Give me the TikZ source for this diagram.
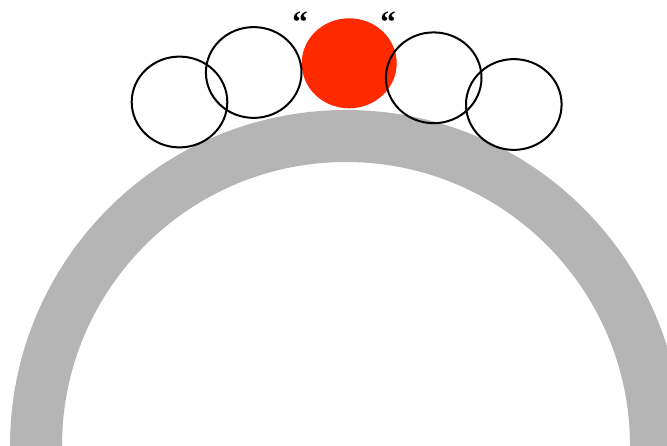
\documentclass[tikz,border=0pt]{standalone}
\usepackage{fontspec}
\newfontfamily\quotefont{Liberation Serif}
\usetikzlibrary{calc, positioning}
\definecolor{bandgray}{HTML}{B5B5B5}
\definecolor{beadred}{HTML}{FF2A00}

\begin{document}
\begin{tikzpicture}[x=1pt,y=1pt]
\def\rOut{336}
\def\rIn{284}
\def\rx{47.8}
\def\ry{45.4}
\coordinate (Bcenter) at (346,-1);
\coordinate (Bone) at (179.5,343);
\coordinate (Btwo) at (253.7,372.5);
\coordinate (Bred) at (349.2,381.7);
\coordinate (Bthree) at (433.7,367.2);
\coordinate (Bfour) at (513.8,340.5);

\useasboundingbox (0,0) rectangle (667,445);
\clip (0,0) rectangle (667,445);

% Grey half ring
\fill[bandgray] ($(Bcenter)+(-\rOut,0)$) arc[start angle=180,end angle=0,radius=\rOut]
    -- ($(Bcenter)+(\rIn,0)$) arc[start angle=0,end angle=180,radius=\rIn] -- cycle;

% Red bead and the open beads
\fill[beadred] (Bred) ellipse[x radius=47.5,y radius=45];
\foreach \b in {Bone,Btwo,Bthree,Bfour}
  \draw[line width=2pt,black] (\b) ellipse[x radius=\rx,y radius=\ry];

% Quote marks
\node[font=\quotefont\bfseries\fontsize{31}{31}\selectfont,inner sep=0pt] (qleft) at (300,423) {“};
\node[font=\quotefont\bfseries\fontsize{31}{31}\selectfont,inner sep=0pt] (qright) at (388,423) {“};
\end{tikzpicture}
\end{document}
